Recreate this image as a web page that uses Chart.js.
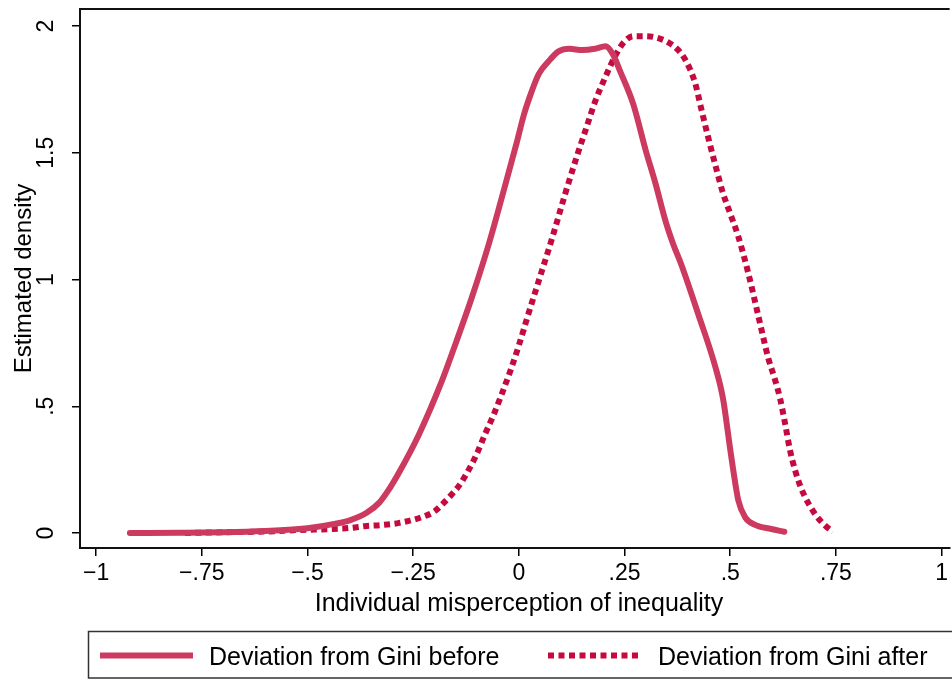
<!DOCTYPE html>
<html>
<head>
<meta charset="utf-8">
<script src="https://cdn.jsdelivr.net/npm/chart.js@4.4.0/dist/chart.umd.min.js"></script>
<style>
  html, body { margin: 0; padding: 0; background: #fff; }
</style>
</head>
<body>
<canvas id="densityChart" width="952" height="679"></canvas>
<script>
// Kernel density of misperception, before / after
const beforeX = [-0.92, -0.80, -0.70, -0.60, -0.52, -0.479, -0.44, -0.40, -0.36, -0.33,
  -0.31, -0.283, -0.236, -0.182, -0.149, -0.111, -0.071, -0.031, -0.005, 0.012,
  0.03, 0.047, 0.07, 0.094, 0.12, 0.15, 0.18, 0.205, 0.222, 0.24,
  0.271, 0.30, 0.323, 0.347, 0.365, 0.384, 0.425, 0.464, 0.483, 0.50,
  0.507, 0.519, 0.535, 0.559, 0.597, 0.628];
const beforeY = [0, 0.001, 0.003, 0.008, 0.016, 0.024, 0.035, 0.05, 0.08, 0.12,
  0.165, 0.24, 0.39, 0.60, 0.75, 0.93, 1.14, 1.38, 1.54, 1.65,
  1.74, 1.81, 1.86, 1.90, 1.91, 1.905, 1.91, 1.92, 1.89, 1.82,
  1.69, 1.51, 1.38, 1.23, 1.14, 1.06, 0.86, 0.66, 0.53, 0.33,
  0.25, 0.13, 0.063, 0.032, 0.016, 0.005];

const afterX = [-0.79, -0.70, -0.60, -0.52, -0.44, -0.40, -0.36, -0.323, -0.283, -0.229,
  -0.20, -0.18, -0.16, -0.14, -0.12, -0.10, -0.08, -0.06, -0.04, -0.02,
  0.0, 0.02, 0.05, 0.08, 0.11, 0.14, 0.16, 0.18, 0.205, 0.229,
  0.248, 0.271, 0.30, 0.323, 0.354, 0.377, 0.396, 0.417, 0.432, 0.448,
  0.465, 0.483, 0.50, 0.519, 0.542, 0.566, 0.59, 0.605, 0.618, 0.63,
  0.641, 0.653, 0.667, 0.684, 0.703, 0.724, 0.743];
const afterY = [0, 0.003, 0.006, 0.012, 0.016, 0.02, 0.028, 0.032, 0.04, 0.063,
  0.085, 0.115, 0.15, 0.19, 0.245, 0.31, 0.39, 0.465, 0.55, 0.64,
  0.74, 0.85, 1.01, 1.17, 1.34, 1.50, 1.60, 1.70, 1.80, 1.885,
  1.935, 1.96, 1.96, 1.955, 1.935, 1.905, 1.86, 1.775, 1.67, 1.56,
  1.45, 1.34, 1.26, 1.17, 1.03, 0.86, 0.69, 0.61, 0.53, 0.43,
  0.33, 0.25, 0.18, 0.12, 0.07, 0.03, 0.005];

const xTickValues = [-1, -0.75, -0.5, -0.25, 0, 0.25, 0.5, 0.75, 1];
const xTickLabels = ['\u22121', '\u2212.75', '\u2212.5', '\u2212.25', '0', '.25', '.5', '.75', '1'];
const yTickValues = [0, 0.5, 1, 1.5, 2];
const yTickLabels = ['0', '.5', '1', '1.5', '2'];

const seriesNames = ['Deviation from Gini before', 'Deviation from Gini after'];
const xTitle = 'Individual misperception of inequality';
const yTitle = 'Estimated density';

const solidColor = '#CC3A60';
const dotColor = '#C40A3E';
const fontFamily = '"Liberation Sans", Arial, Helvetica, sans-serif';

const toPoints = (xs, ys) => xs.map((x, i) => ({ x: x, y: ys[i] }));

// frame, rotated y labels, titles and boxed legend
const stataDecor = {
    id: 'stataDecor',
    afterDraw(chart) {
        const c = chart.ctx;
        const area = chart.chartArea;
        const yScale = chart.scales.y;
        c.save();

        // top frame line
        c.strokeStyle = '#111';
        c.lineWidth = 2;
        c.beginPath();
        c.moveTo(area.left, area.top);
        c.lineTo(area.right, area.top);
        c.stroke();

        // y tick labels, rotated like Stata
        c.fillStyle = '#000';
        c.font = '23px ' + fontFamily;
        c.textAlign = 'center';
        c.textBaseline = 'alphabetic';
        yTickValues.forEach((v, i) => {
            c.save();
            c.translate(53, yScale.getPixelForValue(v));
            c.rotate(-Math.PI / 2);
            c.fillText(yTickLabels[i], 0, 0);
            c.restore();
        });

        // axis titles
        c.font = '24px ' + fontFamily;
        c.save();
        c.translate(31, (area.top + area.bottom) / 2);
        c.rotate(-Math.PI / 2);
        c.fillText(yTitle, 0, 0);
        c.restore();
        c.font = '25px ' + fontFamily;
        c.fillText(xTitle, 519, 611);

        // legend box
        c.strokeStyle = '#333';
        c.lineWidth = 1.5;
        c.strokeRect(88.5, 631.5, 900, 46.5);

        c.lineWidth = 6;
        c.strokeStyle = solidColor;
        c.beginPath();
        c.moveTo(100, 655.5);
        c.lineTo(193, 655.5);
        c.stroke();

        c.strokeStyle = dotColor;
        c.setLineDash([6, 4.5]);
        c.beginPath();
        c.moveTo(548, 655.5);
        c.lineTo(642, 655.5);
        c.stroke();
        c.setLineDash([]);

        c.font = '25px ' + fontFamily;
        c.textAlign = 'left';
        c.fillStyle = '#000';
        c.fillText(seriesNames[0], 209, 665);
        c.fillText(seriesNames[1], 658, 665);

        c.restore();
    }
};

const ctx = document.getElementById('densityChart').getContext('2d');

const chart = new Chart(ctx, {
    type: 'line',
    data: {
        datasets: [{
            label: seriesNames[0],
            data: toPoints(beforeX, beforeY),
            borderColor: solidColor,
            borderWidth: 6,
            borderJoinStyle: 'round',
            borderCapStyle: 'round',
            cubicInterpolationMode: 'monotone',
            pointRadius: 0,
            fill: false,
        }, {
            label: seriesNames[1],
            data: toPoints(afterX, afterY),
            borderColor: dotColor,
            borderWidth: 6,
            borderDash: [6, 4.5],
            borderCapStyle: 'butt',
            cubicInterpolationMode: 'monotone',
            pointRadius: 0,
            fill: false,
        }],
    },
    options: {
        responsive: false,
        animation: false,
        devicePixelRatio: 1,
        layout: { padding: { top: 9, left: 0, right: 0, bottom: 0 } },
        plugins: {
            legend: { display: false },
            tooltip: { enabled: false },
        },
        scales: {
            x: {
                type: 'linear',
                min: -1.038,
                max: 1.019,
                afterBuildTicks: (scale) => {
                    scale.ticks = xTickValues.map(v => ({ value: v }));
                },
                afterFit: (scale) => { scale.height = 131; },
                ticks: {
                    autoSkip: false,
                    maxRotation: 0,
                    padding: 4,
                    color: '#000',
                    font: { family: fontFamily, size: 23 },
                    callback: (v) => xTickLabels[xTickValues.indexOf(v)],
                },
                grid: {
                    drawOnChartArea: false,
                    drawTicks: true,
                    tickLength: 8,
                    color: '#000',
                    lineWidth: 1.5,
                },
                border: { display: true, color: '#111', width: 2 },
            },
            y: {
                type: 'linear',
                min: -0.059,
                max: 2.067,
                afterBuildTicks: (scale) => {
                    scale.ticks = yTickValues.map(v => ({ value: v }));
                },
                afterFit: (scale) => { scale.width = 80; },
                ticks: { display: false },
                grid: {
                    drawOnChartArea: false,
                    drawTicks: true,
                    tickLength: 8,
                    color: '#000',
                    lineWidth: 1.5,
                },
                border: { display: true, color: '#111', width: 2 },
            },
        },
    },
    plugins: [stataDecor],
});
</script>
</body>
</html>
